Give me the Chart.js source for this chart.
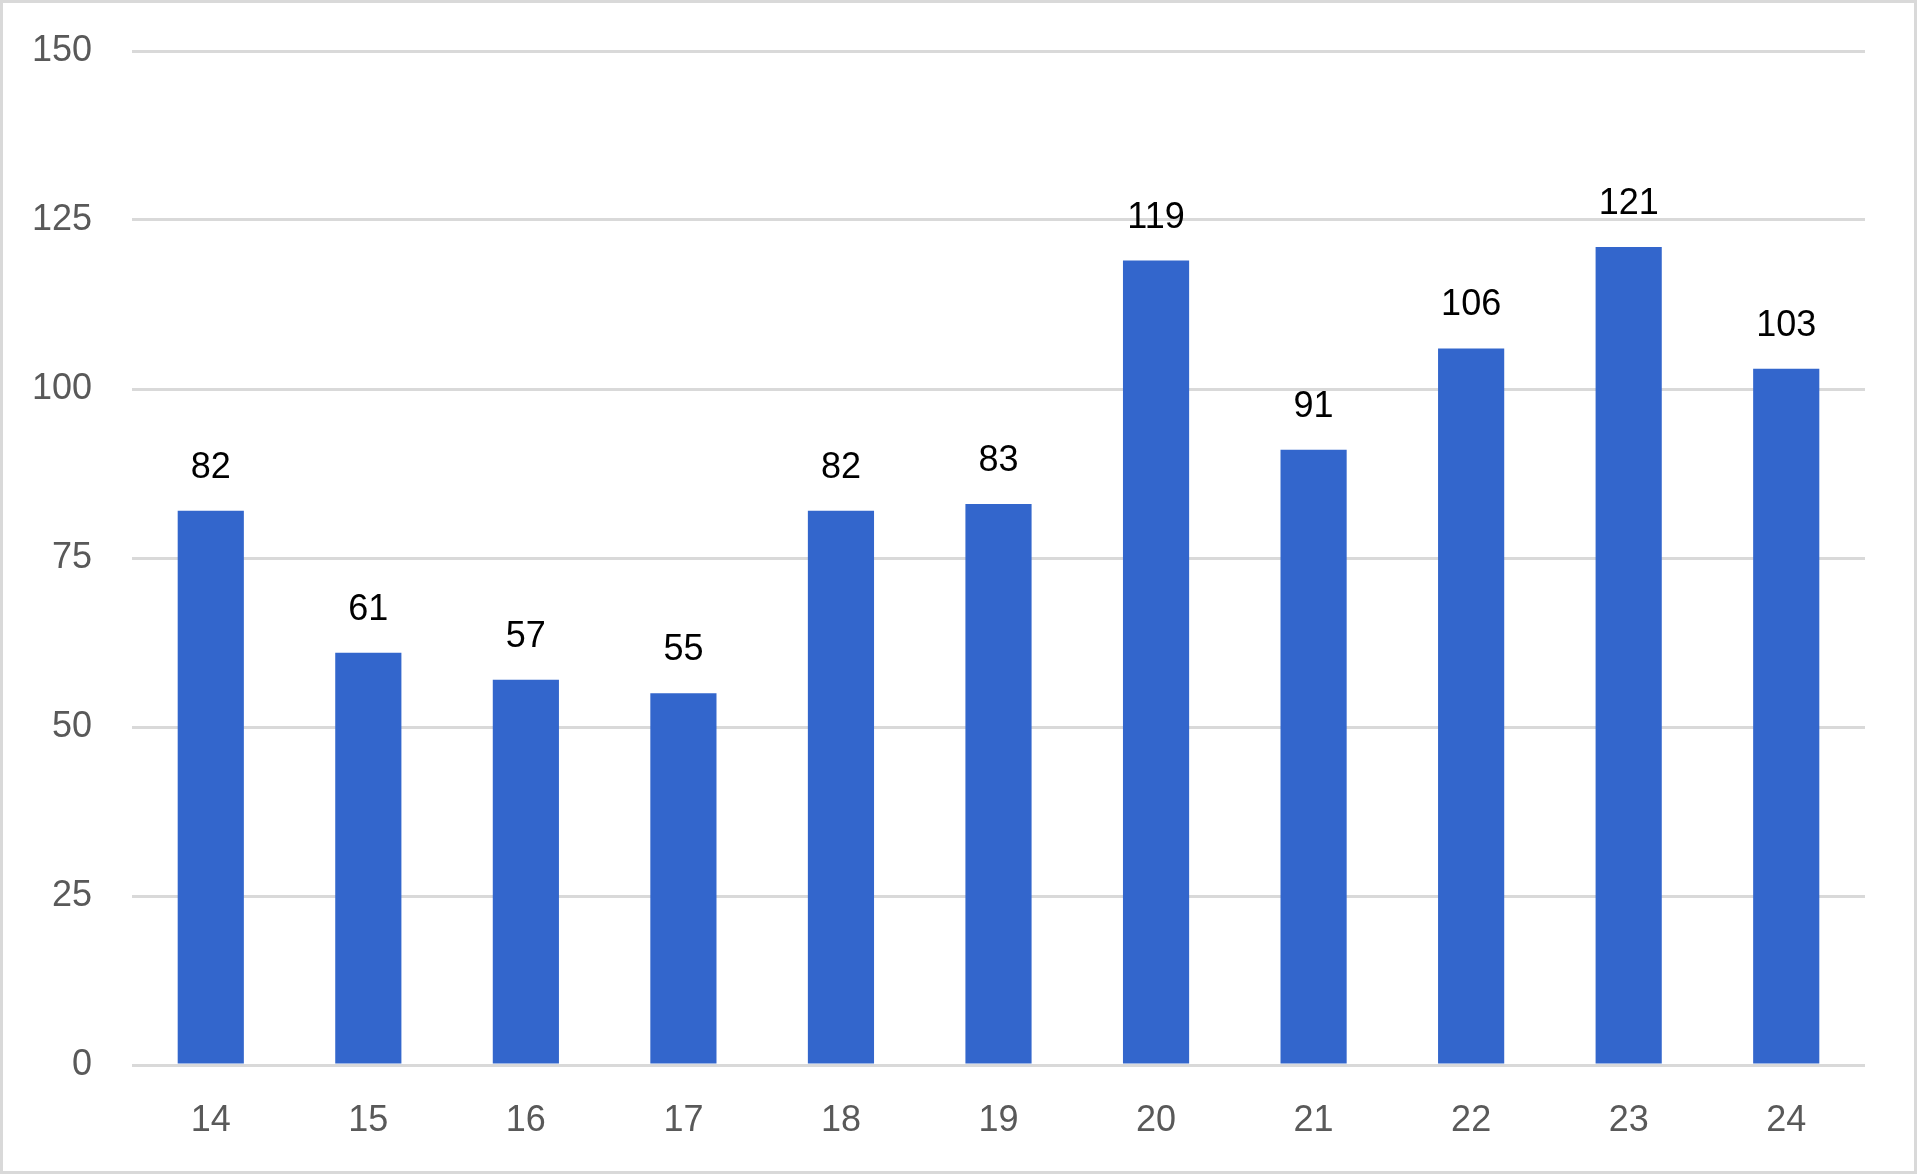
<!DOCTYPE html>
<html>
<head>
<meta charset="utf-8">
<script src="https://cdn.jsdelivr.net/npm/chart.js@4.4.1/dist/chart.umd.min.js"></script>
<style>
  html, body { margin: 0; padding: 0; background: #fff; }
  canvas { display: block; }
</style>
</head>
<body>
<canvas id="chart" width="1917" height="1174"></canvas>
<script>
// Kategoriyalar va qiymatlar
const categories = ['14', '15', '16', '17', '18', '19', '20', '21', '22', '23', '24'];
const values = [82, 61, 57, 55, 82, 83, 119, 91, 106, 121, 103];
const yTicks = [0, 25, 50, 75, 100, 125, 150];

const FONT = '"Liberation Sans", Arial, sans-serif';
const GRID = '#d9d9d9';

// Tashqi ramka
const frame = {
  id: 'frame',
  beforeDraw(chart) {
    const { ctx, width, height } = chart;
    ctx.save();
    ctx.fillStyle = '#fff';
    ctx.fillRect(0, 0, width, height);
    ctx.strokeStyle = GRID;
    ctx.lineWidth = 6;
    ctx.strokeRect(0, 0, width, height);
    ctx.restore();
  }
};

// Ustun ustidagi qiymatlar
const barLabels = {
  id: 'barLabels',
  afterDatasetsDraw(chart) {
    const { ctx } = chart;
    const meta = chart.getDatasetMeta(0);
    ctx.save();
    ctx.font = '36px ' + FONT;
    ctx.fillStyle = '#000';
    ctx.textAlign = 'center';
    ctx.textBaseline = 'alphabetic';
    meta.data.forEach((bar, i) => {
      ctx.fillText(String(values[i]), bar.x, bar.y - 33);
    });
    ctx.restore();
  }
};

new Chart(document.getElementById('chart'), {
  type: 'bar',
  data: {
    labels: categories,
    datasets: [{
      data: values,
      backgroundColor: '#3366cc',
      barPercentage: 0.42,
      categoryPercentage: 1
    }]
  },
  options: {
    responsive: false,
    devicePixelRatio: 1,
    animation: false,
    layout: { padding: { top: 51, right: 52, bottom: 0, left: 0 } },
    plugins: { legend: { display: false }, tooltip: { enabled: false } },
    scales: {
      x: {
        grid: { display: false },
        border: { display: false },
        ticks: { color: '#595959', font: { family: FONT, size: 36 }, padding: 26, maxRotation: 0 },
        afterFit(s) { s.height = 109; }
      },
      y: {
        min: 0, max: 150,
        afterBuildTicks(s) { s.ticks = yTicks.map(v => ({ value: v })); },
        // tick chizig'i shaffof: faqat yorliqni chapga surish uchun
        grid: { color: GRID, lineWidth: 3, drawTicks: true, tickLength: 40, tickColor: 'transparent' },
        border: { display: false },
        ticks: { color: '#595959', font: { family: FONT, size: 36 }, padding: 0 },
        afterFit(s) { s.width = 132; }
      }
    }
  },
  plugins: [frame, barLabels]
});
</script>
</body>
</html>
